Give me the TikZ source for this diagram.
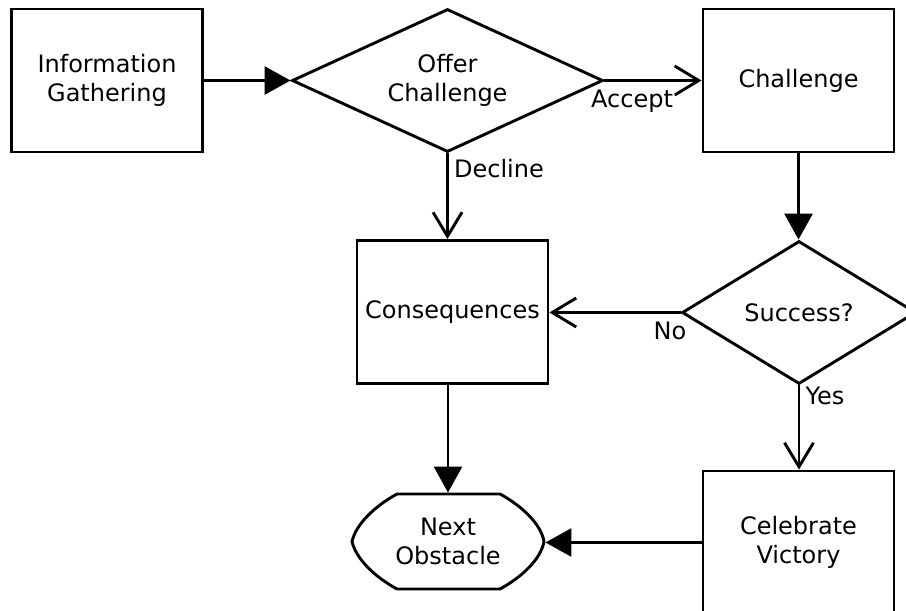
\documentclass[tikz,border=0pt]{standalone}
\usepackage{fontspec}
\setmainfont{DejaVu Sans}
\usetikzlibrary{arrows.meta,shapes.geometric}
\begin{document}
\begin{tikzpicture}[x=1pt,y=-1pt, line width=2.9pt,
  font=\fontsize{24}{29}\selectfont,
  box/.style={draw, minimum width=191pt, minimum height=143pt, align=center, inner sep=0pt},
  dia/.style={draw, diamond, aspect=2, align=center, inner sep=0pt},
  fillarrow/.style={-{Triangle[length=26pt,width=28pt]}},
  openarrow/.style={-{Straight Barb[length=24pt,width=29pt]}},
  lbl/.style={inner sep=0pt}]
\useasboundingbox (0,0) rectangle (906,611);
\fill[white] (0,0) rectangle (906,611);
\node[box] (info) at (107,80.5) {Information\\Gathering};
\node[dia, minimum width=311pt, minimum height=143pt] (offer) at (447.5,80.5) {Offer\\Challenge};
\node[box] (chal) at (798.5,80.5) {Challenge};
\node[box] (cons) at (452.5,312) {Consequences};
\node[dia, minimum width=234pt, minimum height=143pt] (succ) at (799,312.5) {Success?};
\node[box] (cel) at (798.5,542.5) {Celebrate\\Victory};
\node[inner sep=0pt, minimum width=192pt, minimum height=95pt, align=center] (next) at (448,541.5) {Next\\Obstacle};
\draw (397,494) -- (500,494)
  .. controls (522,506) and (541,524) .. (544,541.5)
  .. controls (541,559) and (522,577) .. (500,589)
  -- (397,589)
  .. controls (375,577) and (356,559) .. (352,541.5)
  .. controls (356,524) and (375,506) .. (397,494) -- cycle;
\draw[fillarrow] (info.east) -- (offer.west);
\draw[openarrow] (offer.east) -- (chal.west);
\draw[openarrow] (offer.south) -- (offer.south |- cons.north);
\draw[fillarrow] (chal.south) -- (chal.south |- succ.north);
\draw[openarrow] (succ.west) -- (succ.west -| cons.east);
\draw[openarrow] (succ.south) -- (succ.south |- cel.north);
\draw[fillarrow] (next.north |- cons.south) -- (next.north);
\draw[fillarrow] (cel.west) -- (cel.west -| next.east);
\node[lbl] (accept) at (632,101) {Accept};
\node[lbl] (decline) at (499,169) {Decline};
\node[lbl] (no) at (670,331) {No};
\node[lbl] (yes) at (825,396) {Yes};
\end{tikzpicture}
\end{document}
